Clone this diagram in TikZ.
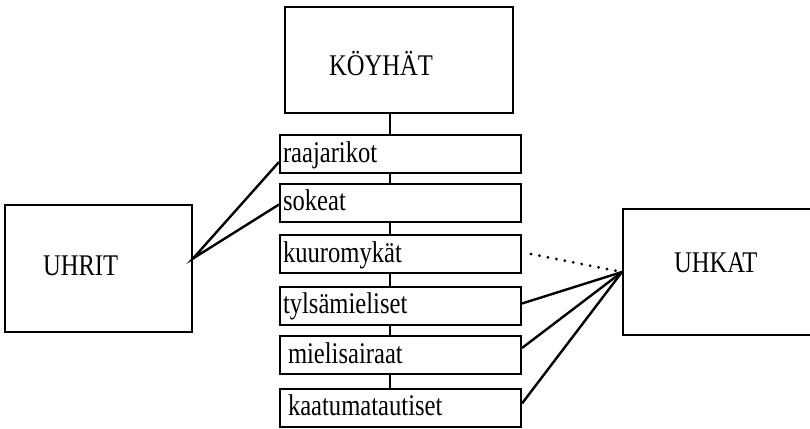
\documentclass[tikz,border=0pt]{standalone}
\usepackage{fontspec}
\setmainfont[FakeStretch=0.82]{Liberation Serif}
\usetikzlibrary{calc}
\begin{document}
\begin{tikzpicture}[x=1pt,y=-1pt,
  box/.style={draw, line width=2pt, rectangle, inner ysep=0pt, align=left,
              font=\fontsize{30}{30}\selectfont},
  item/.style={box, text width=235pt, inner xsep=3pt, minimum height=38pt,
               text height=22pt, text depth=6pt},
  link/.style={line width=2.4pt},
  weak/.style={line width=3pt, dash pattern=on 0.1pt off 8.5pt, line cap=round}
]
\useasboundingbox (0,0) rectangle (810,428);

\node[box, text width=140pt, inner xsep=44pt, minimum height=106pt,
      text height=30pt, text depth=0pt] (koy) at (399,60) {KÖYHÄT};

\node[item] (b1) at (400.5,154) {raajarikot};
\node[item] (b2) at (400.5,202.5) {sokeat};
\node[item] (b3) at (400.5,254) {kuuromykät};
\node[item] (b4) at (400.5,305.5) {tylsämieliset};
\node[item] (b5) at (400.5,355) {\hspace{5pt}mielisairaat};
\node[item] (b6) at (400.5,407.5) {\hspace{5pt}kaatumatautiset};

\node[box, text width=111pt, inner xsep=38pt, minimum height=127pt,
      text height=20pt, text depth=7pt] (uhrit) at (98.5,268.5) {UHRIT};
\node[box, text width=105pt, inner xsep=51pt, minimum height=126pt,
      text height=20pt, text depth=20pt] (uhkat) at (726.5,272) {UHKAT};

\coordinate (sp) at (390,0);
\draw[link] (koy.south -| sp) -- (b1.north -| sp);
\draw[link] (b1.south -| sp) -- (b2.north -| sp);
\draw[link] (b2.south -| sp) -- (b3.north -| sp);
\draw[link] (b3.south -| sp) -- (b4.north -| sp);
\draw[link] (b4.south -| sp) -- (b5.north -| sp);
\draw[link] (b5.south -| sp) -- (b6.north -| sp);

\coordinate (uj) at ($(uhrit.east)+(0,-10)$);
\draw[link] ([yshift=-8pt]b1.west) -- (uj) -- ([yshift=-2pt]b2.west);

\draw[weak] ([xshift=9pt]b3.east) -- (uhkat.west);
\draw[link] ([yshift=2pt]b4.east) -- (uhkat.west);
\draw[link] ([yshift=7pt]b5.east) -- (uhkat.west);
\draw[link] ([yshift=4pt]b6.east) -- (uhkat.west);
\end{tikzpicture}
\end{document}
